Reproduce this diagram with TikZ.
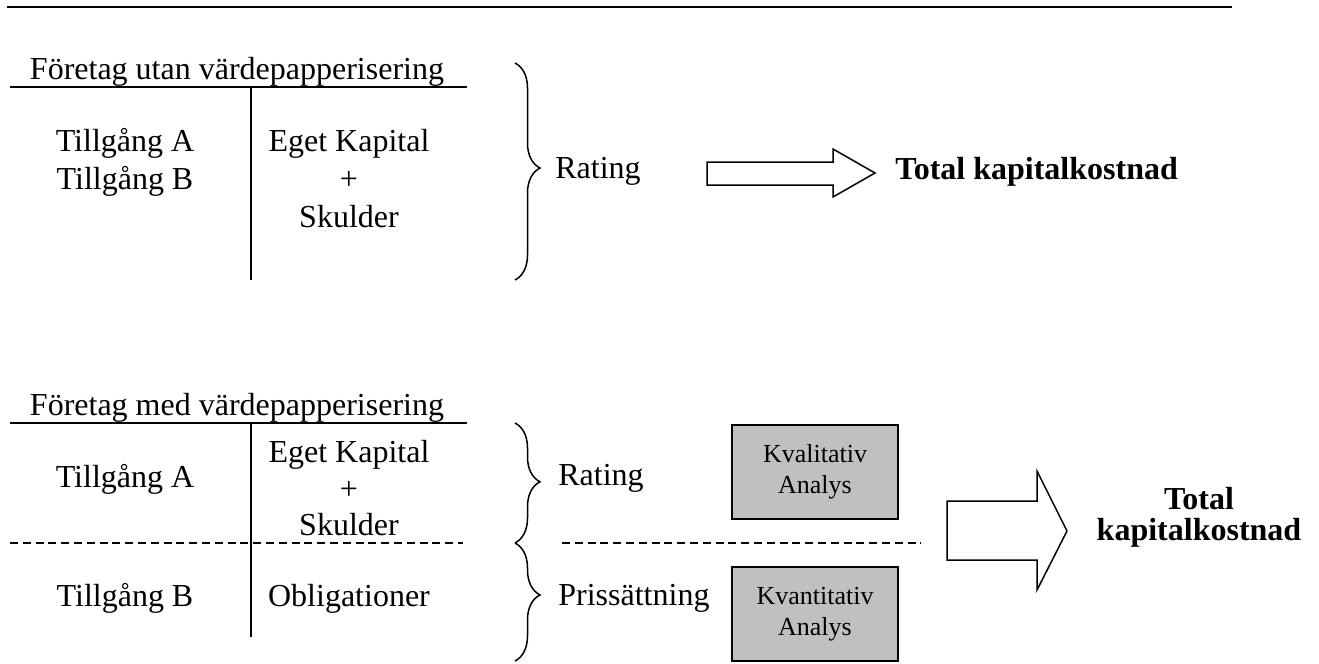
\documentclass[tikz,border=0pt]{standalone}
\usepackage{fontspec}
\setmainfont{Liberation Serif}
\usetikzlibrary{decorations.pathreplacing}
\definecolor{boxgray}{HTML}{C0C0C0}

\tikzset{
  txt/.style={font=\fontsize{16}{19}\selectfont, inner sep=0pt, anchor=base},
  rubrik/.style={txt, font=\fontsize{16}{19}\selectfont\bfseries},
  analys/.style={draw, fill=boxgray, line width=0.75pt, minimum width=83pt,
    minimum height=47pt, align=center, font=\fontsize{13}{15.5}\selectfont},
  klammer/.style={decorate, decoration={brace, amplitude=12.5pt, aspect=#1},
    line width=0.75pt},
  streckad/.style={dash pattern=on 4pt off 2.4pt, line width=0.75pt},
  pil/.style={draw, fill=white, line width=0.75pt, line join=miter}
}

\begin{document}
\begin{tikzpicture}[x=0.5pt, y=-0.5pt]
    \useasboundingbox (0,0) rectangle (1319,664);
    % Linje
    \draw[line width=1.25pt] (7,7) -- (1232,7);
    % Balansräkningar
    \foreach \ya/\yb in {87/280, 423/637} {
        \draw[line width=0.75pt] (10,\ya) -- (467,\ya);
        \draw[line width=0.75pt] (251,\ya) -- (251,\yb);
    }
    % Utan
    \node[txt] (titel1) at (237,79) {Företag utan värdepapperisering};
    \node[txt] (tillgA1) at (125,151) {Tillgång A};
    \node[txt] (tillgB1) at (125,189) {Tillgång B};
    \node[txt] (eget1) at (349,151) {Eget Kapital};
    \node[txt] (plus1) at (349,189) {+};
    \node[txt] (skuld1) at (349,227) {Skulder};
    \draw[klammer=0.484] (515,63) -- (515,280);
    \node[txt, anchor=base west] (rating1) at (555,178) {Rating};
    \draw[pil] (707,162) -- (833,162) -- (833,149) -- (875,173)
        -- (833,197) -- (833,185) -- (707,185) -- cycle;
    \node[rubrik, anchor=base west] (total1) at (895,179) {Total kapitalkostnad};
    % Med
    \node[txt] (titel2) at (237,415) {Företag med värdepapperisering};
    \node[txt] (tillgA2) at (125,487) {Tillgång A};
    \node[txt] (eget2) at (349,462) {Eget Kapital};
    \node[txt] (plus2) at (349,499) {+};
    \node[txt] (skuld2) at (349,535) {Skulder};
    \draw[streckad] (10,543) -- (463,543);
    \node[txt] (tillgB2) at (125,606) {Tillgång B};
    \node[txt] (oblig) at (349,606) {Obligationer};
    \draw[klammer=0.49] (515,423) -- (515,543);
    \draw[klammer=0.44] (515,543) -- (515,661);
    \node[txt, anchor=base west] (rating2) at (558,485) {Rating};
    \node[txt, anchor=base west] (priss) at (558,605) {Prissättning};
    \draw[streckad] (562,543) -- (921,543);
    \node[analys] (kval) at (815,472) {Kvalitativ\\Analys};
    \node[analys] (kvant) at (815,614) {Kvantitativ\\Analys};
    \draw[pil] (947,501) -- (1037,501) -- (1037,471) -- (1067,531)
        -- (1037,590) -- (1037,560) -- (947,560) -- cycle;
    \node[rubrik] (total2a) at (1199,509) {Total};
    \node[rubrik] (total2b) at (1199,540) {kapitalkostnad};
\end{tikzpicture}
\end{document}
